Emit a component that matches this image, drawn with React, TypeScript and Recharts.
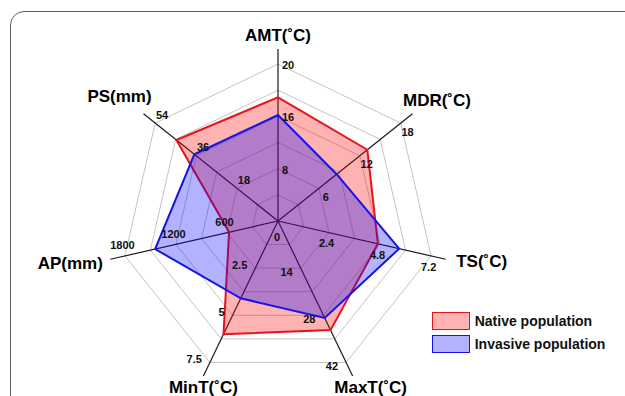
import React from "react";
import {
  RadarChart,
  Radar,
  PolarGrid,
  PolarAngleAxis,
  PolarRadiusAxis,
  Legend,
} from "recharts";

const axisNames = ["AMT(˚C)", "MDR(˚C)", "TS(˚C)", "MaxT(˚C)", "MinT(˚C)", "AP(mm)", "PS(mm)"];
const axisMax = [24, 18, 7.2, 42, 7.5, 1800, 54];
const axisTicks = [
  ["8", "16", "20"],
  ["6", "12", "18"],
  ["2.4", "4.8", "7.2"],
  ["14", "28", "42"],
  ["2.5", "5", "7.5"],
  ["600", "1200", "1800"],
  ["18", "36", "54"],
];
const nativeValues = [18.9, 13.1, 4.7, 32.4, 6.0, 575, 44.7];
const invasiveValues = [16.2, 8.6, 5.7, 28.8, 4.1, 1445, 36.8];
const seriesNames = ["Native population", "Invasive population"];

const CX = 278;
const CY = 221;
const SPOKE = 172; // spokes run a bit past the outer ring
const RING = 157; // outermost ring
const RING_COUNT = 6;
const ringRadii = Array.from({ length: RING_COUNT }, (_, i) => (RING * (i + 1)) / RING_COUNT);

const FONT = "'Liberation Sans', Arial, sans-serif";
const RED = "#e8121b";
const BLUE = "#1414e6";
const legendFills = ["rgba(255,0,0,0.3)", "rgba(0,0,255,0.3)"];
const legendStrokes = [RED, BLUE];

// title position relative to the end of each spoke
const titleOffsets = [
  [0, -14],
  [24.5, -13.7],
  [36, 2.4],
  [18, 12],
  [0, 12],
  [-40, 4],
  [-24, -17],
];

const data = axisNames.map((axis, i) => ({
  axis,
  native: nativeValues[i] / axisMax[i],
  invasive: invasiveValues[i] / axisMax[i],
}));

function AxisTick(props: any) {
  const { payload } = props;
  const i = axisNames.indexOf(payload.value);
  const rad = (payload.coordinate * Math.PI) / 180;
  const cos = Math.cos(rad);
  const sin = Math.sin(rad);
  const at = (r: number) => [CX + r * cos, CY - r * sin];
  const [ex, ey] = at(SPOKE);
  const [ox, oy] = titleOffsets[i];
  // unit vector perpendicular to the spoke, clockwise side
  const px = sin;
  const py = cos;

  return (
    <g>
      <text
        x={ex + ox}
        y={ey + oy}
        textAnchor="middle"
        dominantBaseline="central"
        fontSize={17}
        fontWeight="bold"
        fontFamily={FONT}
        fill="#000"
      >
        {payload.value}
      </text>
      {axisTicks[i].map((t, k) => {
        const [tx, ty] = at(ringRadii[2 * k + 1]);
        let x = tx + px * 11;
        let y = ty + py * 11;
        let anchor: "start" | "middle" | "end" = "middle";
        if (px > 0.9) {
          x = tx + 4;
          y = ty + 1;
          anchor = "start";
        } else if (px < -0.8) {
          x = tx - 8;
          y = ty + py * 8;
          anchor = "end";
        }
        return (
          <text
            key={t}
            x={x}
            y={y}
            textAnchor={anchor}
            dominantBaseline="central"
            fontSize={11}
            fontWeight="bold"
            fontFamily={FONT}
            fill="#111"
          >
            {t}
          </text>
        );
      })}
      {i === 0 && (
        <text
          x={CX - 1}
          y={CY + 16}
          textAnchor="middle"
          dominantBaseline="central"
          fontSize={11}
          fontWeight="bold"
          fontFamily={FONT}
          fill="#111"
        >
          0
        </text>
      )}
    </g>
  );
}

function LegendBox({ payload }: any) {
  // keep the series order fixed: native first, invasive second
  const entries = [...(payload || [])].sort(
    (a: any, b: any) => seriesNames.indexOf(a.value) - seriesNames.indexOf(b.value)
  );
  return (
    <div style={{ fontFamily: FONT }}>
      {entries.map((entry: any) => {
        const s = seriesNames.indexOf(entry.value);
        return (
          <div key={entry.value} style={{ display: "flex", alignItems: "center", height: 22.6 }}>
            <span
              style={{
                display: "inline-block",
                width: 36,
                height: 16,
                border: `1.5px solid ${legendStrokes[s]}`,
                background: legendFills[s],
              }}
            />
            <span style={{ marginLeft: 5, fontSize: 14, fontWeight: "bold", color: "#111" }}>
              {entry.value}
            </span>
          </div>
        );
      })}
    </div>
  );
}

export default function App() {
  return (
    <div
      style={{
        position: "absolute",
        left: 0,
        top: 0,
        width: 625,
        height: 396,
        overflow: "hidden",
        background: "#fff",
      }}
    >
      <div
        style={{
          position: "absolute",
          left: 10,
          top: 11,
          width: 700,
          height: 500,
          border: "1.5px solid #5e5e5e",
          borderRadius: 14,
        }}
      />
      <div style={{ position: "absolute", left: 0, top: 0 }}>
        <RadarChart
          width={625}
          height={396}
          data={data}
          cx={CX}
          cy={CY}
          outerRadius={SPOKE}
          margin={{ top: 0, right: 0, bottom: 0, left: 0 }}
        >
          <PolarGrid
            gridType="polygon"
            radialLines={false}
            polarRadius={ringRadii}
            stroke="#c4c4c4"
            strokeWidth={1}
          />
          <PolarGrid gridType="polygon" polarRadius={[]} stroke="#1a1a1a" strokeWidth={1.2} />
          <PolarAngleAxis dataKey="axis" tick={AxisTick} axisLine={false} tickLine={false} />
          <PolarRadiusAxis
            angle={90}
            type="number"
            domain={[0, SPOKE / RING]}
            allowDataOverflow
            tick={false}
            axisLine={false}
          />
          <Radar
            name={seriesNames[0]}
            dataKey="native"
            stroke={RED}
            strokeWidth={2}
            fill="#ff0000"
            fillOpacity={0.3}
            dot={false}
            isAnimationActive={false}
          />
          <Radar
            name={seriesNames[1]}
            dataKey="invasive"
            stroke={BLUE}
            strokeWidth={2}
            fill="#0000ff"
            fillOpacity={0.3}
            dot={false}
            isAnimationActive={false}
          />
          <Legend
            content={LegendBox}
            wrapperStyle={{ position: "absolute", left: 431.7, top: 310, width: 200, height: 46 }}
          />
        </RadarChart>
      </div>
    </div>
  );
}
